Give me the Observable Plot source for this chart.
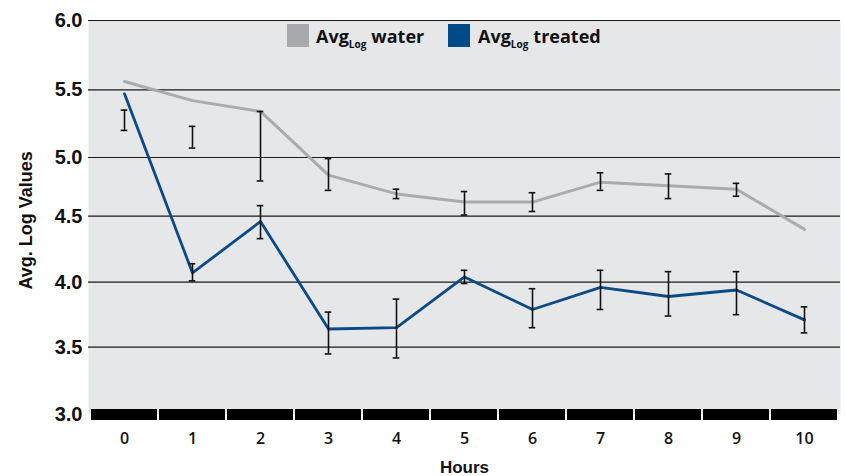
<!DOCTYPE html>
<html>
<head>
<meta charset="utf-8">
<script src="https://cdn.jsdelivr.net/npm/d3@7"></script>
<script src="https://cdn.jsdelivr.net/npm/@observablehq/plot@0.6"></script>
<style>
  body { margin: 0; background: white; }
  #wrap { position: relative; width: 846px; height: 476px; overflow: hidden; font-family: "Open Sans", sans-serif; }
  .leg { position: absolute; font-weight: 700; font-size: 18px; color: #111; line-height: 1; white-space: nowrap; }
  .leg sub { font-size: 10px; vertical-align: -5px; margin-right: 5px; }
  .sw { position: absolute; width: 22px; height: 23px; }
</style>
</head>
<body>
<div id="wrap"></div>
<script>
const hours = [0, 1, 2, 3, 4, 5, 6, 7, 8, 9, 10];
const water = [5.56, 5.42, 5.34, 4.85, 4.69, 4.62, 4.62, 4.79, 4.76, 4.73, 4.40];
const treated = [5.47, 4.07, 4.46, 3.64, 3.65, 4.04, 3.79, 3.96, 3.89, 3.94, 3.71];
const waterErrLow = [5.20, 5.07, 4.80, 4.72, 4.65, 4.51, 4.54, 4.72, 4.65, 4.67, null];
const waterErrHigh = [5.35, 5.23, 5.34, 4.99, 4.73, 4.71, 4.70, 4.87, 4.86, 4.78, null];
const treatedErrLow = [null, 4.01, 4.33, 3.45, 3.42, 3.99, 3.65, 3.79, 3.74, 3.75, 3.61];
const treatedErrHigh = [null, 4.14, 4.59, 3.77, 3.87, 4.09, 3.95, 4.09, 4.08, 4.08, 3.81];
const yTicks = [3.0, 3.5, 4.0, 4.5, 5.0, 5.5, 6.0];
const gridValues = [3.5, 4.0, 4.5, 5.0, 5.5, 6.0];
const seriesNames = ["water", "treated"];
const seriesColors = ["#a9abae", "#0a4a88"];
const swatchColors = ["#a7a9ac", "#004a87"];

const rows = hours.map((h, i) => ({hour: h, water: water[i], treated: treated[i]}));
const errs = [];
hours.forEach((h, i) => {
  if (waterErrLow[i] != null) errs.push({hour: h, lo: waterErrLow[i], hi: waterErrHigh[i]});
  if (treatedErrLow[i] != null) errs.push({hour: h, lo: treatedErrLow[i], hi: treatedErrHigh[i]});
});

const chart = Plot.plot({
  width: 846,
  height: 476,
  marginLeft: 88,
  marginRight: 6,
  marginTop: 20,
  marginBottom: 62,
  style: {fontFamily: "Open Sans, sans-serif", background: "transparent", color: "#111"},
  x: {type: "band", domain: hours, padding: 0, label: null},
  y: {type: "linear", domain: yTicks, range: [414, 346.7, 281.7, 215.7, 157, 89.3, 20], label: null},
  marks: [
    Plot.frame({fill: "#e6e7e8", stroke: null}),
    Plot.ruleY(gridValues, {stroke: "#1a1a1a", strokeWidth: 1.2}),
    Plot.barY(hours, {x: d => d, y1: 3, y2: 3, insetTop: -5, insetBottom: -6, insetLeft: 1, insetRight: 1, fill: "#000"}),
    Plot.line(rows, {x: "hour", y: "water", stroke: seriesColors[0], strokeWidth: 3}),
    Plot.line(rows, {x: "hour", y: "treated", stroke: seriesColors[1], strokeWidth: 2.8}),
    Plot.ruleX(errs, {x: "hour", y1: "lo", y2: "hi", stroke: "#111", strokeWidth: 1.6}),
    Plot.tickY(errs, {x: "hour", y: "lo", stroke: "#111", strokeWidth: 1.6, insetLeft: 30.7, insetRight: 30.7}),
    Plot.tickY(errs, {x: "hour", y: "hi", stroke: "#111", strokeWidth: 1.6, insetLeft: 30.7, insetRight: 30.7}),
    Plot.axisY(yTicks, {tickSize: 0, tickPadding: 6, tickFormat: d3.format(".1f"), fontSize: 20, fontWeight: 700, fontFamily: "Liberation Sans, Arial, sans-serif", fill: "#111"}),
    Plot.axisX(hours, {tickSize: 0, tickPadding: 18, fontSize: 16, fontWeight: 600, fill: "#111"}),
    Plot.text(["Hours"], {frameAnchor: "bottom", dy: 58, lineAnchor: "bottom", fontSize: 17, fontWeight: 700, fontFamily: "Liberation Sans, Arial, sans-serif", fill: "#111"}),
    Plot.text(["Avg. Log Values"], {frameAnchor: "left", dx: -57, dy: 72, rotate: -90, lineAnchor: "bottom", fontSize: 18, fontWeight: 700, fontFamily: "Liberation Sans, Arial, sans-serif", fill: "#111"})
  ]
});

const wrap = document.getElementById("wrap");
wrap.appendChild(chart);

const legendPos = [{sw: 287, tx: 316}, {sw: 448, tx: 478}];
seriesNames.forEach((name, i) => {
  const sw = document.createElement("div");
  sw.className = "sw";
  sw.style.left = legendPos[i].sw + "px";
  sw.style.top = "24px";
  sw.style.background = swatchColors[i];
  wrap.appendChild(sw);
  const t = document.createElement("div");
  t.className = "leg";
  t.style.left = legendPos[i].tx + "px";
  t.style.top = "27px";
  t.innerHTML = "Avg<sub>Log</sub>" + name;
  wrap.appendChild(t);
});
</script>
</body>
</html>
